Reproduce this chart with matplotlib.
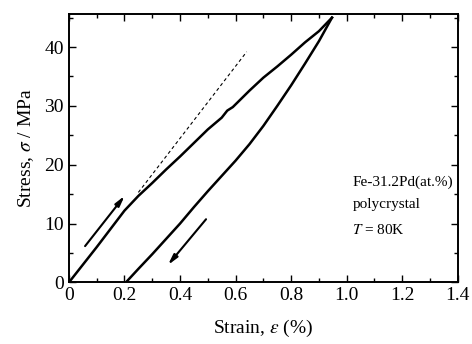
import matplotlib
matplotlib.use('Agg')
import matplotlib.pyplot as plt
from matplotlib.ticker import MultipleLocator

plt.rcParams['font.family'] = ['Liberation Serif', 'DejaVu Serif']
plt.rcParams['mathtext.fontset'] = 'stix'

# loading branch (strain %, stress MPa)
loadStrain = [0, 0.05, 0.1, 0.15, 0.2, 0.25, 0.3, 0.35, 0.4, 0.45, 0.5, 0.55,
              0.57, 0.59, 0.62, 0.65, 0.7, 0.75, 0.8, 0.85, 0.9, 0.947]
loadStress = [0, 3.0, 6.0, 9.1, 12.2, 14.7, 16.9, 19.2, 21.4, 23.7, 26.0, 28.0,
              29.2, 29.8, 31.2, 32.6, 34.8, 36.7, 38.7, 40.8, 42.7, 45.0]

# unloading branch
unloadStrain = [0.947, 0.9, 0.85, 0.8, 0.75, 0.7, 0.65, 0.6, 0.55, 0.5, 0.45,
                0.4, 0.35, 0.3, 0.25, 0.205]
unloadStress = [45.0, 41.0, 37.2, 33.5, 30.0, 26.6, 23.5, 20.7, 18.1, 15.5, 12.8,
                10.0, 7.4, 4.8, 2.3, 0]

# elastic extrapolation (dashed)
dashStrain = [0.25, 0.64]
dashStress = [15.3, 39.2]

# arrows: (tail, head)
upArrow = [(0.052, 5.8), (0.207, 15.1)]
downArrow = [(0.50, 11.1), (0.35, 2.6)]

fig = plt.figure(figsize=(4.72, 3.44), dpi=100)
ax = fig.add_axes([0.146, 0.179, 0.824, 0.780])

ax.plot(loadStrain, loadStress, '-k', lw=1.8)
ax.plot(unloadStrain, unloadStress, '-k', lw=1.8)
ax.plot(dashStrain, dashStress, '--k', lw=0.8, dashes=(3, 2.5))

for tail, head in (upArrow, downArrow):
	ax.annotate('', xy=head, xytext=tail,
		arrowprops=dict(arrowstyle='-|>,head_length=0.6,head_width=0.15', color='k', lw=1.5))

ax.text(1.02, 17.0, 'Fe-31.2Pd(at.%)', fontsize=11, va='center')
ax.text(1.02, 13.2, 'polycrystal', fontsize=11, va='center')
ax.text(1.02, 8.9, r'$T$ = 80K', fontsize=11, va='center')

ax.set_xlim(0, 1.4)
ax.set_ylim(0, 45.6)
ax.xaxis.set_major_locator(MultipleLocator(0.2))
ax.xaxis.set_minor_locator(MultipleLocator(0.1))
ax.yaxis.set_major_locator(MultipleLocator(10))
ax.yaxis.set_minor_locator(MultipleLocator(5))
ax.set_xticks([0, 0.2, 0.4, 0.6, 0.8, 1.0, 1.2, 1.4])
ax.set_xticklabels(['0', '0.2', '0.4', '0.6', '0.8', '1.0', '1.2', '1.4'])
ax.tick_params(which='both', direction='in', top=True, right=True, labelsize=14, width=1.0)
ax.tick_params(which='major', length=5)
ax.tick_params(which='minor', length=3)
for sp in ax.spines.values():
	sp.set_linewidth(1.4)

ax.set_xlabel(r'Strain, $\varepsilon$ (%)', fontsize=14, labelpad=10)
ax.set_ylabel(r'Stress, $\sigma$ / MPa', fontsize=14, labelpad=6)

fig.savefig('out.png', dpi=100)
